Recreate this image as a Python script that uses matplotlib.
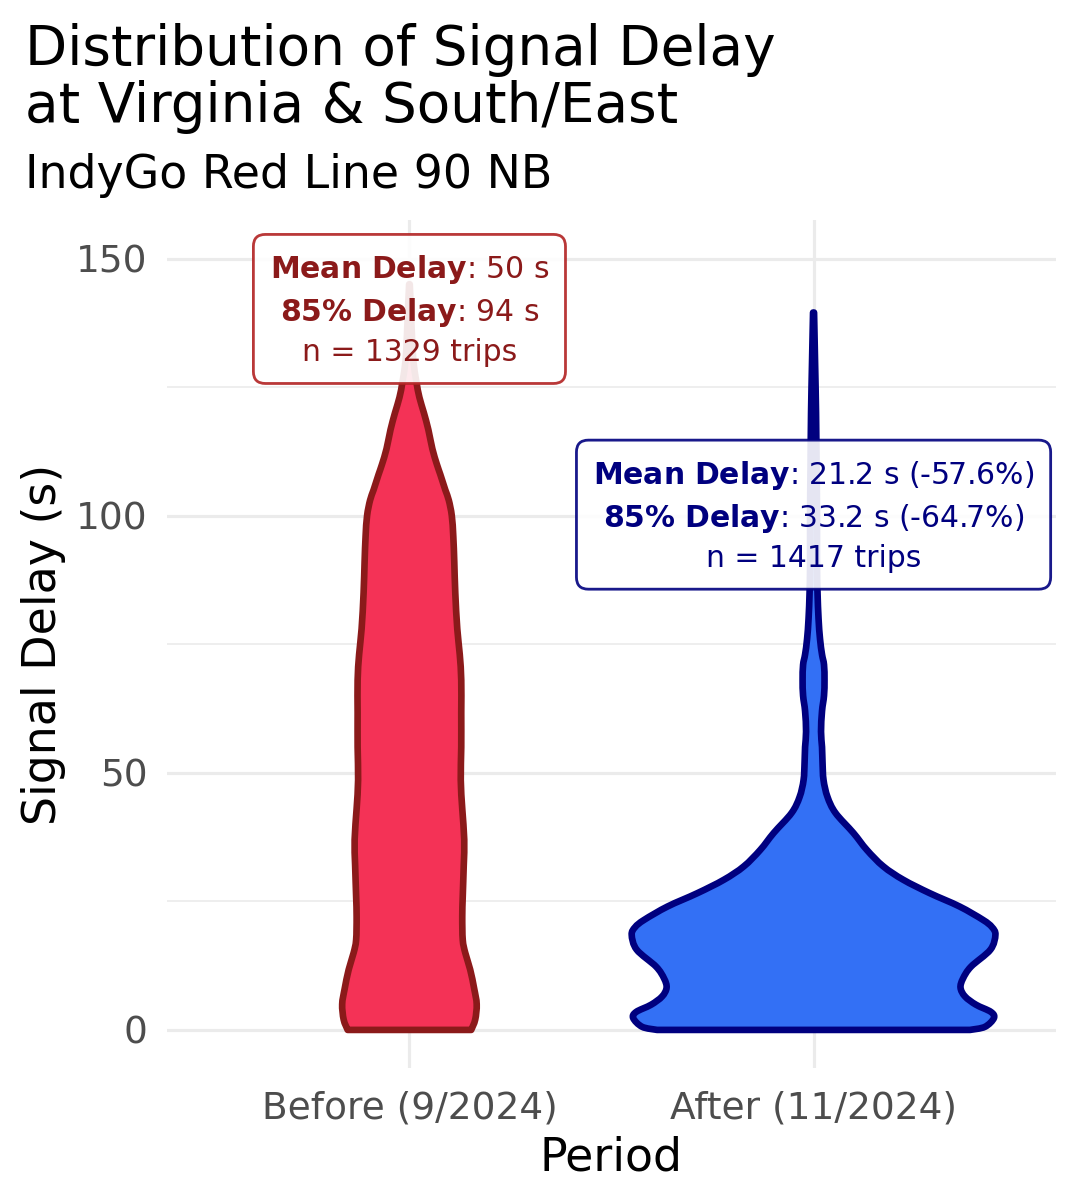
import matplotlib.pyplot as plt
from matplotlib.path import Path
from matplotlib.patches import PathPatch

plt.rcParams['font.family'] = ['DejaVu Sans']
plt.rcParams['mathtext.fontset'] = 'dejavusans'

periods = ['Before (9/2024)', 'After (11/2024)']

# violin outlines: delay level and relative density there
before_y = [0, 2, 5, 8, 11.7, 15, 17.5, 22, 26, 32, 37, 43, 48.6, 55, 61.7, 68,
            73, 78, 85, 91, 96, 100, 103, 105, 108, 110, 113, 116.7, 120, 123,
            126, 130, 135, 140, 145]
before_d = [62, 66, 67.5, 65, 61, 56, 53.5, 53, 53.5, 54.5, 55, 53, 51.5, 52, 52, 52,
            50.5, 48, 46, 45, 44, 42.5, 39.5, 36, 31, 27.5, 23, 19, 14.5, 10,
            7, 4, 2.5, 1.5, 0.3]

after_y = [0, 0.6, 2.3, 3.5, 4.9, 6.5, 8.2, 10, 12.3, 15.6, 18.5, 20, 21.4, 24,
           26.6, 29.2, 31.8, 35, 38.3, 42.2, 45.3, 48.6, 52, 55, 58, 62, 65, 68,
           71, 73, 76, 80, 85, 90, 100, 110, 120, 130, 139.5]
after_d = [157, 172, 181, 178, 163, 152, 147.5, 150, 158, 177.5, 182.5, 179, 170, 146.5,
           116.5, 90, 70, 53.5, 40, 22, 14, 10, 9, 8.5, 7.5, 8.5, 10.5, 11,
           10.5, 8.5, 6.5, 5, 4, 3.5, 3.5, 3, 2.5, 1.5, 0.5]

mean_delay = [50, 21.2]
p85_delay = [94, 33.2]
n_trips = [1329, 1417]
mean_change = [None, -57.6]
p85_change = [None, -64.7]
label_y = [140, 100]

fills = ['#F43256', '#3370F5']
edges = ['#8B1A1A', '#00007F']
label_text = ['#8B1A1A', '#00007F']
label_edge = ['#B22222', '#00007F']


def smooth_side(pts):
    # catmull-rom through the read points, as cubic bezier pieces
    verts, codes = [], []
    n = len(pts)
    for i in range(n - 1):
        p0 = pts[max(i - 1, 0)]
        p1 = pts[i]
        p2 = pts[i + 1]
        p3 = pts[min(i + 2, n - 1)]
        c1 = (p1[0] + (p2[0] - p0[0]) / 6, p1[1] + (p2[1] - p0[1]) / 6)
        c2 = (p2[0] - (p3[0] - p1[0]) / 6, p2[1] - (p3[1] - p1[1]) / 6)
        verts += [c1, c2, p2]
        codes += [Path.CURVE4] * 3
    return verts, codes


fig = plt.figure(figsize=(10.8, 12), dpi=100)
ax = fig.add_axes([0.1546, 0.1096, 0.8232, 0.7071])

dmax = max(after_d)
for i, (ys, ds) in enumerate([(before_y, before_d), (after_y, after_d)]):
    cx = i + 1
    half = [d / dmax * 0.45 for d in ds]
    left = [(cx - h, y) for h, y in zip(half, ys)]
    right = [(cx + h, y) for h, y in zip(half[::-1], ys[::-1])]
    lv, lc = smooth_side(left)
    rv, rc = smooth_side(right)
    verts = [left[0]] + lv + [right[0]] + rv + [left[0], left[0]]
    codes = [Path.MOVETO] + lc + [Path.LINETO] + rc + [Path.LINETO, Path.CLOSEPOLY]
    patch = PathPatch(Path(verts, codes), facecolor=fills[i], edgecolor=edges[i],
                      linewidth=4.8, joinstyle='round', zorder=3)
    ax.add_patch(patch)

for i in range(2):
    if mean_change[i] is None:
        l1 = r'$\mathbf{Mean\ Delay}$' + f': {mean_delay[i]:g} s'
        l2 = r'$\mathbf{85\%\ Delay}$' + f': {p85_delay[i]:g} s'
    else:
        l1 = r'$\mathbf{Mean\ Delay}$' + f': {mean_delay[i]:g} s ({mean_change[i]:g}%)'
        l2 = r'$\mathbf{85\%\ Delay}$' + f': {p85_delay[i]:g} s ({p85_change[i]:g}%)'
    l3 = f'n = {n_trips[i]} trips'
    ax.text(i + 1, label_y[i], l1 + '\n' + l2 + '\n' + l3, ha='center', va='center',
            multialignment='center', fontsize=21.5, color=label_text[i], linespacing=1.4,
            zorder=5,
            bbox=dict(boxstyle='round,pad=0.55,rounding_size=0.4', facecolor='white',
                      alpha=0.9, edgecolor=label_edge[i], linewidth=2.0))

ax.set_xlim(0.4, 2.6)
ax.set_ylim(-7.5, 157.5)
ax.set_xticks([1, 2])
ax.set_xticklabels(periods)
ax.set_yticks([0, 50, 100, 150])
ax.set_yticks([25, 75, 125], minor=True)
ax.grid(True, which='major', color='#EBEBEB', linewidth=2.3, zorder=0)
ax.grid(True, which='minor', axis='y', color='#EBEBEB', linewidth=1.2, zorder=0)
ax.set_axisbelow(True)
for s in ax.spines.values():
    s.set_visible(False)
ax.tick_params(which='both', length=0, labelsize=27, labelcolor='#4D4D4D')
ax.tick_params(axis='x', pad=16)
ax.tick_params(axis='y', pad=14)
ax.set_xlabel('Period', fontsize=33, labelpad=6)
ax.set_ylabel('Signal Delay (s)', fontsize=33, labelpad=7)

fig.text(0.023, 0.981, 'Distribution of Signal Delay\nat Virginia & South/East',
         fontsize=39.5, ha='left', va='top', linespacing=1.08)
fig.text(0.023, 0.843, 'IndyGo Red Line 90 NB', fontsize=33, ha='left', va='baseline')

fig.savefig('out.png', dpi=100)
